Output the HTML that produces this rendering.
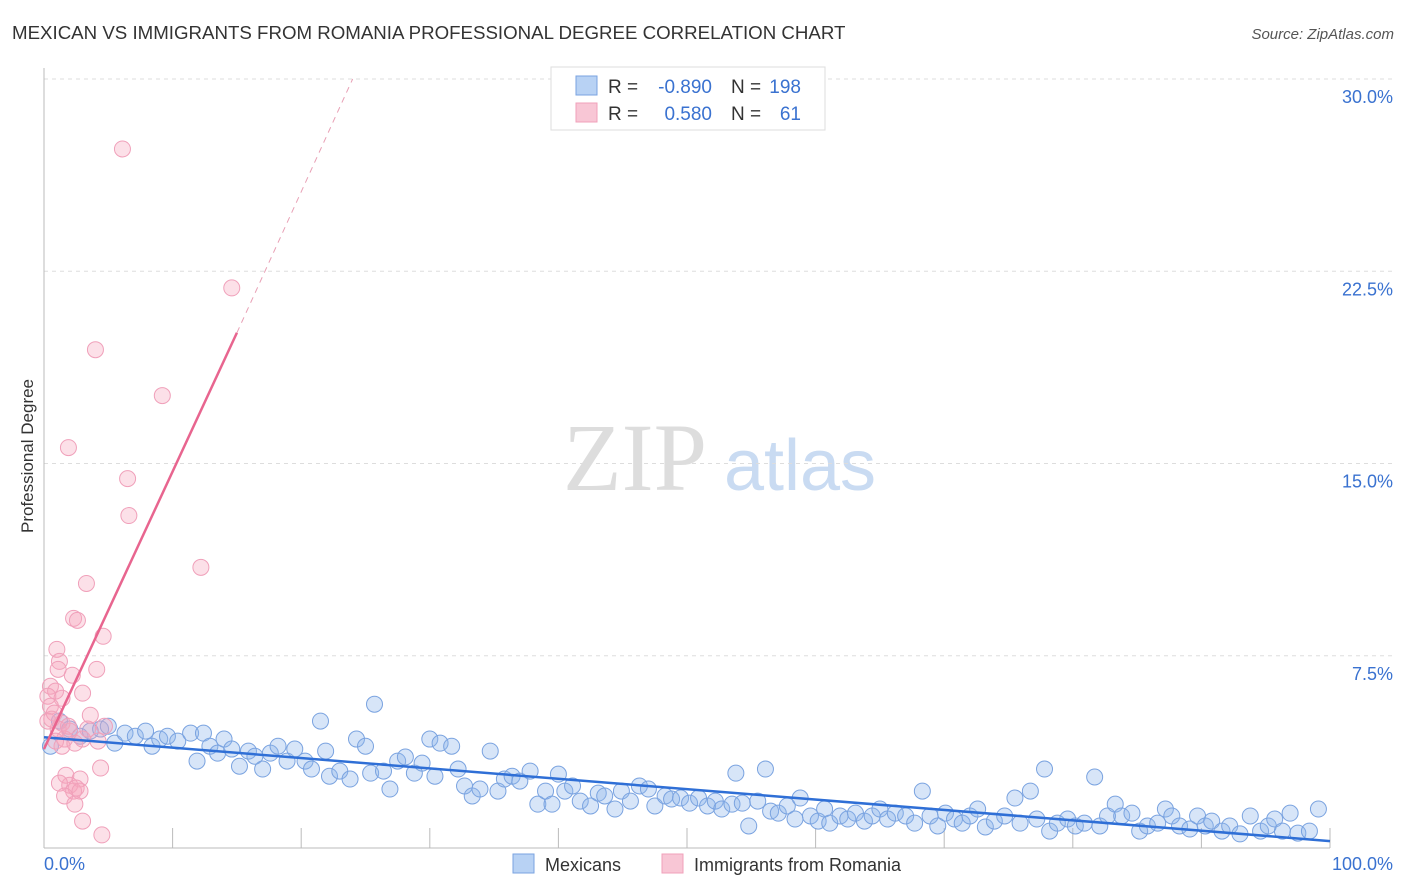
<!DOCTYPE html>
<html><head><meta charset="utf-8"><style>
body{margin:0;background:#fff;font-family:"Liberation Sans",sans-serif;}
svg{display:block}
</style></head><body>
<svg width="1406" height="892" viewBox="0 0 1406 892" xmlns="http://www.w3.org/2000/svg">
<text x="12" y="39" font-size="18.7" fill="#333">MEXICAN VS IMMIGRANTS FROM ROMANIA PROFESSIONAL DEGREE CORRELATION CHART</text>
<text x="1394" y="39" font-size="15" fill="#555" font-style="italic" text-anchor="end">Source: ZipAtlas.com</text>
<g>
<text x="635" y="490" font-size="96" font-family="Liberation Serif,serif" fill="#ddd" text-anchor="middle">ZIP</text>
<text x="800" y="490" font-size="72" fill="#c9dbf2" text-anchor="middle">atlas</text>
</g>
<g id="grid"></g>
<g id="axes"></g>
<g id="pts"></g>
<g id="lines"></g>
<text transform="translate(33,456) rotate(-90)" font-size="17" fill="#333" text-anchor="middle">Professional Degree</text>
<g>
<rect x="551" y="67" width="274" height="63" fill="#fff" stroke="#ddd"/>
<rect x="576" y="76" width="21" height="19" fill="#b8d2f4" stroke="#7aa3e0"/>
<rect x="576" y="103" width="21" height="19" fill="#f8c6d5" stroke="#f0a0ba"/>
<text x="608" y="93" font-size="19" fill="#333">R =</text>
<text x="712" y="93" font-size="19" fill="#3a72d0" text-anchor="end">-0.890</text>
<text x="731" y="93" font-size="19" fill="#333">N =</text>
<text x="801" y="93" font-size="19" fill="#3a72d0" text-anchor="end">198</text>
<text x="608" y="120" font-size="19" fill="#333">R =</text>
<text x="712" y="120" font-size="19" fill="#3a72d0" text-anchor="end">0.580</text>
<text x="731" y="120" font-size="19" fill="#333">N =</text>
<text x="801" y="120" font-size="19" fill="#3a72d0" text-anchor="end">61</text>
</g>
<g>
<rect x="513" y="854" width="21" height="19" fill="#b8d2f4" stroke="#7aa3e0"/>
<text x="545" y="871" font-size="18" fill="#333">Mexicans</text>
<rect x="662" y="854" width="21" height="19" fill="#f8c6d5" stroke="#f0a0ba"/>
<text x="694" y="871" font-size="18" fill="#333">Immigrants from Romania</text>
</g>
</svg>
<script>
const yTicks=[7.5,15,22.5,30];
const yTickLabels=["7.5%","15.0%","22.5%","30.0%"];
const xTickLabels=["0.0%","100.0%"];
const blueX=[0.5,1.2,2.0,2.8,3.6,4.4,5.0,5.5,6.3,7.1,7.9,8.4,9.0,9.6,10.4,11.4,11.9,12.4,12.9,13.5,14.0,14.6,15.2,15.9,16.4,17.0,17.6,18.2,18.9,19.5,20.3,20.8,21.5,21.9,22.2,23.0,23.8,24.3,25.0,25.7,25.4,26.4,26.9,27.5,28.1,28.8,29.4,30.0,30.4,30.8,31.7,32.2,32.7,33.3,33.9,34.7,35.3,35.8,36.4,37.0,37.8,38.4,39.0,39.5,40.0,40.5,41.1,41.7,42.5,43.1,43.6,44.4,44.9,45.6,46.3,47.0,47.5,48.3,48.8,49.5,50.2,50.9,51.6,52.2,52.7,53.5,53.8,54.3,54.8,55.5,56.1,56.5,57.1,57.8,58.4,58.8,59.6,60.2,60.7,61.1,61.9,62.5,63.1,63.8,64.4,65.0,65.6,66.2,67.0,67.7,68.3,68.9,69.5,70.1,70.8,71.4,72.0,72.6,73.2,73.9,74.7,75.5,75.9,76.7,77.2,77.8,78.2,78.8,79.6,80.2,80.9,81.7,82.1,82.7,83.3,83.8,84.6,85.2,85.8,86.6,87.2,87.7,88.3,89.1,89.7,90.3,90.8,91.6,92.2,93.0,93.8,94.6,95.2,95.7,96.3,96.9,97.5,98.4,99.1];
const blueY=[3.97,4.95,4.64,4.36,4.56,4.64,4.75,4.09,4.48,4.36,4.56,3.97,4.25,4.36,4.17,4.48,3.39,4.48,3.97,3.70,4.25,3.86,3.19,3.78,3.58,3.08,3.70,3.97,3.39,3.86,3.39,3.08,4.95,3.78,2.80,3.00,2.69,4.25,3.97,5.61,2.92,3.00,2.30,3.39,3.55,2.92,3.31,4.25,2.80,4.09,3.97,3.08,2.42,2.03,2.30,3.78,2.22,2.69,2.80,2.61,3.00,1.71,2.22,1.71,2.88,2.22,2.42,1.83,1.64,2.14,2.03,1.52,2.22,1.83,2.42,2.30,1.64,2.03,1.91,1.95,1.75,1.95,1.64,1.83,1.52,1.71,2.92,1.75,0.86,1.83,3.08,1.44,1.36,1.64,1.13,1.95,1.25,1.05,1.52,0.97,1.25,1.13,1.36,1.05,1.25,1.52,1.13,1.36,1.25,0.97,2.22,1.25,0.86,1.36,1.13,0.97,1.25,1.52,0.82,1.05,1.25,1.95,0.97,2.22,1.13,3.08,0.66,0.97,1.13,0.86,0.97,2.77,0.86,1.25,1.71,1.25,1.36,0.66,0.86,0.97,1.52,1.25,0.86,0.74,1.25,0.86,1.05,0.66,0.86,0.55,1.25,0.66,0.86,1.13,0.66,1.36,0.58,0.66,1.52];
const pinkX=[6.1,14.6,4.0,9.2,1.9,6.5,6.6,12.2,3.3,2.3,2.6,4.6,1.0,1.2,1.1,4.1,2.2,0.5,0.9,0.3,3.0,1.4,0.5,3.6,0.6,1.4,1.1,2.0,1.6,0.9,1.4,4.2,2.4,3.0,4.4,1.7,2.8,2.0,1.2,2.3,2.5,2.8,1.6,2.4,3.0,4.5,0.3,0.8,1.9,3.4,4.7];
const pinkY=[27.27,21.85,19.44,17.65,15.62,14.41,12.97,10.95,10.32,8.96,8.88,8.26,7.75,7.28,6.97,6.97,6.74,6.31,6.12,5.92,6.04,5.84,5.53,5.18,5.03,4.87,4.64,4.56,4.25,4.17,3.97,4.17,4.09,4.25,3.12,2.84,2.69,2.45,2.53,2.22,2.34,2.22,2.03,1.71,1.05,0.51,4.95,5.26,4.75,4.64,4.75];
const blueTrend=[[0,4.32],[100,0.27]];
const pinkTrendSolid=[[0,3.86],[15,20.1]];
const pinkTrendDash=[[15,20.1],[24,30]];
const X0=44,X1=1330,Y0=848,Y30=79;
const xs=v=>X0+(X1-X0)*v/100;
const ys=v=>Y0-(Y0-Y30)*v/30;
const NS="http://www.w3.org/2000/svg";
function mk(tag,parent,attrs){const e=document.createElementNS(NS,tag);for(const k in attrs)e.setAttribute(k,attrs[k]);document.getElementById(parent).appendChild(e);return e;}
yTicks.forEach((t,i)=>{
 const g=mk('line','grid',{x1:X0,x2:1394,y1:ys(t),y2:ys(t),stroke:'#ddd','stroke-dasharray':'4,4'});
 
 
 const l=mk('text','axes',{x:1393,y:ys(t)+24,'font-size':18,fill:'#3a72d0','text-anchor':'end'});
 l.textContent=yTickLabels[i];
 
 
});
const ax=mk('line','axes',{x1:X0,x2:X0,y1:68,y2:Y0,stroke:'#bbb'});


const bx=mk('line','axes',{x1:X0,x2:X1,y1:Y0,y2:Y0,stroke:'#bbb'});


for(let i=0;i<=10;i++){
 const t=mk('line','axes',{x1:xs(i*10),x2:xs(i*10),y1:Y0,y2:Y0-20,stroke:'#bbb'});
 
 
}
[[0,'start',44],[100,'end',1393]].forEach((p,i)=>{
 const l=mk('text','axes',{x:p[2],y:870,'font-size':18,fill:'#3a72d0','text-anchor':p[1]});
 l.textContent=xTickLabels[i];
 
 
});
blueX.forEach((x,i)=>{
 const c=mk('circle','pts',{cx:xs(x),cy:ys(blueY[i]),r:8,fill:'rgba(140,180,235,0.35)',stroke:'#7aa3e0','stroke-width':1});
 
 
});
pinkX.forEach((x,i)=>{
 const c=mk('circle','pts',{cx:xs(x),cy:ys(pinkY[i]),r:8,fill:'rgba(245,165,190,0.35)',stroke:'#f0a0ba','stroke-width':1});
 
 
});
const bl=mk('line','lines',{x1:xs(blueTrend[0][0]),y1:ys(blueTrend[0][1]),x2:xs(blueTrend[1][0]),y2:ys(blueTrend[1][1]),stroke:'#2f6fd6','stroke-width':2.5});


const pl=mk('line','lines',{x1:xs(pinkTrendSolid[0][0]),y1:ys(pinkTrendSolid[0][1]),x2:xs(pinkTrendSolid[1][0]),y2:ys(pinkTrendSolid[1][1]),stroke:'#e8658f','stroke-width':2.5});


const pd=mk('line','lines',{x1:xs(pinkTrendDash[0][0]),y1:ys(pinkTrendDash[0][1]),x2:xs(pinkTrendDash[1][0]),y2:ys(pinkTrendDash[1][1]),stroke:'#e8a0b5','stroke-width':1,'stroke-dasharray':'6,5'});


</script>
</body></html>
